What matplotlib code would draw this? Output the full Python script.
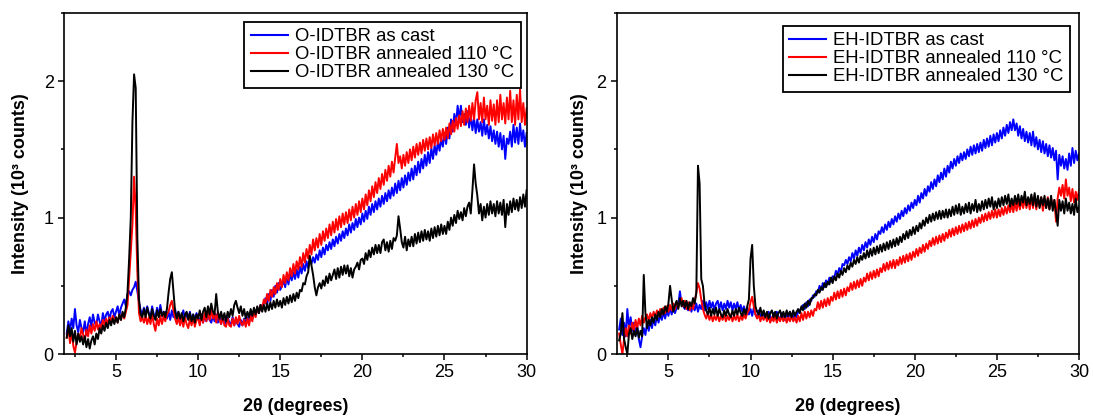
import numpy as np
import matplotlib.pyplot as plt
from matplotlib.ticker import MultipleLocator

plt.rcParams['font.family'] = ['Liberation Sans', 'DejaVu Sans']

# 2-theta grid: 2.0 .. 30.0 in 0.1 degree steps (one row = one degree)
# --- O-IDTBR (left panel) ---
o_cast = [
    .15, .24, .17, .26, .19, .33, .21, .16, .25, .19,
    .16, .24, .14, .22, .27, .20, .29, .23, .21, .29,
    .24, .20, .30, .24, .29, .31, .25, .31, .33, .27,
    .31, .35, .28, .34, .37, .40, .35, .44, .46, .43,
    .47, .49, .53, .46, .38, .32, .29, .34, .29, .35,
    .30, .27, .35, .29, .27, .34, .28, .36, .29, .27,
    .31, .26, .31, .25, .32, .27, .33, .26, .31, .25,
    .28, .32, .25, .30, .26, .31, .24, .29, .25, .30,
    .27, .24, .29, .23, .28, .24, .29, .25, .23, .28,
    .24, .29, .23, .27, .22, .28, .24, .22, .27, .23,
    .22, .27, .21, .26, .22, .20, .25, .21, .26, .22,
    .27, .23, .29, .26, .31, .28, .34, .30, .36, .34,
    .37, .41, .36, .44, .39, .47, .42, .50, .45, .52,
    .47, .50, .54, .49, .57, .51, .59, .54, .60, .55,
    .62, .56, .64, .59, .66, .61, .68, .63, .70, .66,
    .71, .67, .73, .69, .76, .71, .78, .73, .80, .76,
    .82, .77, .84, .79, .86, .81, .88, .83, .90, .85,
    .92, .87, .95, .89, .96, .91, .99, .93, 1.00, .95,
    1.03, .97, 1.05, .99, 1.08, 1.02, 1.10, 1.04, 1.12, 1.06,
    1.14, 1.08, 1.16, 1.10, 1.18, 1.12, 1.20, 1.14, 1.22, 1.16,
    1.25, 1.18, 1.27, 1.20, 1.29, 1.22, 1.31, 1.24, 1.33, 1.27,
    1.36, 1.28, 1.38, 1.31, 1.41, 1.33, 1.43, 1.36, 1.46, 1.38,
    1.48, 1.40, 1.51, 1.43, 1.53, 1.46, 1.56, 1.49, 1.58, 1.52,
    1.62, 1.54, 1.66, 1.58, 1.72, 1.63, 1.76, 1.68, 1.82, 1.72,
    1.82, 1.70, 1.76, 1.68, 1.78, 1.66, 1.75, 1.64, 1.73, 1.62,
    1.72, 1.63, 1.70, 1.60, 1.72, 1.61, 1.68, 1.58, 1.67, 1.56,
    1.64, 1.54, 1.63, 1.52, 1.62, 1.50, 1.60, 1.43, 1.58, 1.54,
    1.63, 1.52, 1.68, 1.55, 1.66, 1.54, 1.69, 1.56, 1.64, 1.52,
    1.62,
]
o_110 = [
    .12, .19, .08, .17, .06, .01, .09, .15, .11, .19,
    .14, .10, .18, .13, .21, .15, .22, .17, .24, .18,
    .22, .19, .25, .21, .26, .22, .27, .23, .28, .24,
    .27, .23, .29, .25, .30, .26, .31, .36, .55, .75,
    .95, 1.30, 1.05, .60, .30, .24, .27, .23, .28, .22,
    .27, .22, .29, .22, .17, .26, .21, .28, .22, .28,
    .24, .29, .31, .36, .39, .32, .26, .22, .27, .21,
    .26, .20, .27, .22, .19, .26, .21, .27, .20, .25,
    .26, .21, .29, .23, .30, .24, .31, .25, .32, .26,
    .30, .23, .31, .25, .22, .28, .21, .20, .26, .21,
    .20, .26, .21, .27, .22, .28, .23, .21, .25, .20,
    .26, .21, .28, .24, .31, .27, .34, .30, .36, .33,
    .40, .37, .44, .39, .47, .42, .49, .44, .52, .47,
    .55, .49, .58, .52, .60, .54, .63, .57, .66, .59,
    .68, .62, .71, .64, .74, .67, .77, .70, .80, .73,
    .84, .76, .85, .78, .88, .80, .90, .83, .92, .85,
    .95, .87, .97, .89, .99, .91, 1.01, .93, 1.03, .95,
    1.04, .96, 1.06, .98, 1.08, 1.00, 1.10, 1.02, 1.12, 1.04,
    1.14, 1.06, 1.17, 1.09, 1.20, 1.12, 1.23, 1.15, 1.26, 1.18,
    1.29, 1.21, 1.32, 1.24, 1.35, 1.27, 1.38, 1.30, 1.41, 1.33,
    1.44, 1.54, 1.40, 1.45, 1.36, 1.46, 1.38, 1.48, 1.40, 1.50,
    1.42, 1.52, 1.44, 1.54, 1.46, 1.55, 1.47, 1.57, 1.49, 1.58,
    1.50, 1.59, 1.51, 1.61, 1.53, 1.62, 1.54, 1.64, 1.56, 1.65,
    1.57, 1.66, 1.58, 1.69, 1.61, 1.71, 1.63, 1.73, 1.65, 1.75,
    1.67, 1.78, 1.68, 1.80, 1.70, 1.82, 1.71, 1.84, 1.72, 1.86,
    1.92, 1.72, 1.84, 1.70, 1.88, 1.72, 1.82, 1.68, 1.86, 1.71,
    1.83, 1.68, 1.86, 1.70, 1.90, 1.72, 1.84, 1.69, 1.88, 1.72,
    1.93, 1.70, 1.86, 1.68, 1.90, 1.72, 1.94, 1.70, 1.84, 1.68,
    1.80,
]
o_130 = [
    .12, .21, .13, .19, .09, .17, .07, .15, .09, .13,
    .07, .13, .05, .11, .04, .10, .13, .07, .15, .11,
    .19, .15, .21, .17, .23, .19, .25, .21, .26, .22,
    .27, .23, .29, .25, .31, .27, .34, .45, .70, 1.00,
    1.70, 2.05, 1.95, .85, .40, .29, .27, .33, .27, .34,
    .29, .26, .33, .28, .25, .32, .27, .33, .28, .31,
    .27, .33, .45, .55, .60, .45, .31, .26, .31, .26,
    .30, .24, .29, .31, .25, .30, .24, .29, .23, .29,
    .26, .32, .25, .31, .34, .27, .35, .29, .37, .31,
    .29, .44, .31, .26, .31, .25, .30, .24, .31, .27,
    .33, .28, .36, .39, .34, .30, .35, .28, .33, .26,
    .31, .27, .33, .28, .34, .29, .35, .30, .36, .31,
    .36, .31, .37, .32, .38, .33, .39, .34, .40, .35,
    .39, .34, .41, .36, .42, .37, .43, .38, .44, .39,
    .45, .41, .47, .46, .52, .51, .57, .60, .72, .65,
    .58, .49, .43, .49, .52, .48, .54, .50, .57, .52,
    .59, .54, .58, .62, .55, .63, .56, .64, .58, .65,
    .59, .65, .57, .63, .56, .62, .64, .67, .62, .69,
    .70, .66, .74, .69, .76, .71, .78, .73, .80, .74,
    .80, .74, .82, .84, .76, .82, .75, .83, .77, .85,
    .83, .87, 1.01, .92, .82, .78, .86, .76, .84, .79,
    .86, .79, .88, .81, .89, .82, .90, .83, .91, .84,
    .90, .83, .92, .85, .93, .86, .94, .87, .95, .88,
    .94, .88, .97, .91, 1.00, .94, 1.02, .96, 1.05, .99,
    1.04, .98, 1.07, 1.01, 1.08, 1.11, 1.03, 1.20, 1.39, 1.25,
    1.16, 1.03, 1.10, .98, 1.08, 1.00, 1.10, 1.02, 1.12, 1.03,
    1.10, 1.01, 1.12, 1.03, 1.11, 1.02, 1.13, .93, 1.10, 1.02,
    1.12, 1.04, 1.14, 1.06, 1.13, 1.05, 1.15, 1.07, 1.17, 1.08,
    1.20,
]

# --- EH-IDTBR (right panel) ---
eh_cast = [
    .18, .26, .14, .23, .13, .33, .19, .27, .17, .23,
    .14, .21, .11, .05, .13, .19, .14, .23, .17, .25,
    .19, .26, .21, .28, .23, .29, .25, .31, .26, .32,
    .28, .34, .29, .35, .30, .34, .36, .46, .37, .35,
    .33, .38, .32, .37, .31, .36, .32, .37, .31, .36,
    .33, .39, .32, .38, .33, .39, .34, .38, .32, .37,
    .39, .33, .38, .32, .37, .33, .39, .34, .38, .32,
    .37, .33, .38, .32, .36, .31, .35, .30, .34, .29,
    .33, .28, .34, .29, .27, .32, .28, .26, .31, .27,
    .26, .31, .27, .25, .30, .26, .31, .27, .26, .30,
    .27, .25, .30, .26, .31, .27, .26, .30, .27, .31,
    .32, .34, .36, .33, .38, .35, .40, .39, .43, .42,
    .46, .45, .50, .47, .52, .49, .54, .51, .56, .53,
    .57, .56, .61, .58, .63, .60, .66, .65, .69, .66,
    .71, .68, .74, .70, .76, .72, .78, .74, .80, .76,
    .82, .78, .84, .80, .86, .82, .88, .84, .90, .88,
    .93, .89, .95, .91, .97, .93, .99, .95, 1.01, .97,
    1.03, .99, 1.05, 1.01, 1.07, 1.03, 1.09, 1.05, 1.11, 1.07,
    1.13, 1.09, 1.16, 1.11, 1.18, 1.14, 1.21, 1.16, 1.23, 1.19,
    1.26, 1.21, 1.28, 1.23, 1.31, 1.26, 1.33, 1.28, 1.36, 1.30,
    1.38, 1.33, 1.41, 1.36, 1.43, 1.38, 1.45, 1.40, 1.47, 1.42,
    1.48, 1.43, 1.50, 1.45, 1.52, 1.46, 1.53, 1.47, 1.54, 1.48,
    1.55, 1.49, 1.57, 1.51, 1.58, 1.52, 1.60, 1.53, 1.61, 1.55,
    1.62, 1.56, 1.64, 1.58, 1.66, 1.60, 1.68, 1.62, 1.70, 1.64,
    1.72, 1.64, 1.69, 1.60, 1.67, 1.58, 1.65, 1.56, 1.63, 1.55,
    1.62, 1.53, 1.63, 1.52, 1.59, 1.50, 1.57, 1.48, 1.56, 1.47,
    1.54, 1.45, 1.53, 1.44, 1.51, 1.42, 1.49, 1.28, 1.46, 1.38,
    1.45, 1.36, 1.43, 1.35, 1.47, 1.38, 1.51, 1.40, 1.49, 1.42,
    1.47,
]
eh_110 = [
    .15, .07, .00, .11, .19, .13, .21, .15, .23, .17,
    .25, .19, .26, .21, .28, .23, .27, .29, .24, .30,
    .26, .31, .27, .32, .28, .33, .29, .34, .30, .35,
    .31, .36, .32, .37, .33, .38, .34, .39, .41, .35,
    .39, .33, .38, .32, .37, .33, .39, .45, .52, .48,
    .40, .33, .29, .26, .30, .25, .29, .24, .28, .25,
    .29, .24, .28, .25, .29, .24, .28, .25, .29, .24,
    .28, .25, .29, .24, .28, .25, .29, .26, .30, .32,
    .38, .42, .35, .29, .26, .29, .24, .28, .25, .29,
    .24, .28, .23, .27, .24, .28, .23, .27, .24, .28,
    .24, .28, .23, .27, .24, .28, .24, .27, .23, .28,
    .24, .30, .25, .31, .26, .31, .27, .32, .28, .33,
    .32, .38, .33, .39, .34, .40, .35, .41, .36, .42,
    .39, .45, .40, .46, .41, .47, .42, .48, .43, .49,
    .46, .52, .47, .53, .48, .54, .49, .55, .50, .56,
    .53, .59, .54, .60, .55, .61, .56, .62, .57, .63,
    .60, .66, .61, .67, .62, .68, .63, .69, .63, .69,
    .65, .71, .66, .72, .67, .73, .68, .74, .69, .75,
    .71, .77, .72, .78, .74, .80, .75, .81, .77, .83,
    .79, .85, .80, .86, .81, .87, .82, .88, .83, .89,
    .85, .91, .86, .92, .87, .93, .88, .94, .89, .95,
    .90, .96, .91, .97, .92, .98, .93, .99, .94, 1.00,
    .96, 1.02, .97, 1.03, .98, 1.04, .99, 1.05, 1.00, 1.06,
    1.00, 1.06, 1.01, 1.07, 1.02, 1.08, 1.03, 1.09, 1.04, 1.10,
    1.04, 1.11, 1.05, 1.12, 1.06, 1.13, 1.07, 1.14, 1.07, 1.14,
    1.06, 1.15, 1.07, 1.16, 1.06, 1.14, 1.08, 1.15, 1.05, 1.13,
    1.07, 1.15, 1.06, 1.14, 1.08, 1.13, .97, 1.14, 1.22, 1.16,
    1.24, 1.14, 1.28, 1.16, 1.22, 1.12, 1.21, 1.11, 1.19, 1.13,
    1.20,
]
eh_130 = [
    .10, .15, .30, .11, .05, .00, .15, .19, .11, .17,
    .13, .19, .12, .17, .13, .58, .30, .19, .25, .21,
    .27, .23, .29, .25, .31, .27, .33, .29, .35, .31,
    .37, .50, .40, .31, .36, .39, .33, .41, .35, .39,
    .34, .39, .33, .38, .35, .41, .37, .45, 1.38, 1.25,
    .55, .50, .37, .32, .29, .34, .28, .33, .29, .34,
    .28, .33, .29, .27, .32, .28, .33, .29, .27, .32,
    .28, .33, .29, .34, .30, .28, .33, .29, .35, .40,
    .70, .80, .50, .35, .31, .29, .34, .28, .32, .27,
    .31, .26, .30, .32, .27, .31, .26, .30, .32, .27,
    .31, .27, .32, .28, .31, .27, .32, .28, .31, .33,
    .30, .35, .32, .37, .34, .39, .36, .41, .41, .44,
    .43, .47, .45, .49, .47, .52, .49, .53, .51, .56,
    .52, .57, .54, .59, .56, .61, .58, .63, .60, .65,
    .62, .67, .64, .69, .66, .71, .67, .72, .69, .74,
    .70, .76, .71, .77, .72, .78, .73, .79, .74, .80,
    .75, .81, .76, .82, .77, .83, .78, .84, .79, .85,
    .80, .86, .82, .88, .84, .90, .85, .91, .87, .93,
    .88, .94, .90, .96, .92, .98, .94, 1.00, .96, 1.02,
    .97, 1.03, .98, 1.04, .99, 1.05, .99, 1.05, 1.00, 1.06,
    1.00, 1.06, 1.01, 1.08, 1.02, 1.09, 1.03, 1.10, 1.02, 1.08,
    1.03, 1.10, 1.04, 1.11, 1.03, 1.10, 1.05, 1.13, 1.04, 1.10,
    1.05, 1.12, 1.06, 1.13, 1.07, 1.14, 1.08, 1.15, 1.06, 1.12,
    1.07, 1.14, 1.08, 1.15, 1.09, 1.16, 1.10, 1.17, 1.08, 1.14,
    1.09, 1.16, 1.10, 1.17, 1.09, 1.16, 1.11, 1.19, 1.09, 1.15,
    1.10, 1.17, 1.09, 1.18, 1.08, 1.16, 1.07, 1.15, 1.09, 1.16,
    1.07, 1.14, 1.06, 1.16, 1.05, 1.13, 1.04, .94, 1.13, 1.05,
    1.12, 1.03, 1.14, 1.05, 1.11, 1.03, 1.10, 1.02, 1.14, 1.04,
    1.08,
]

labels_o = ["O-IDTBR as cast", "O-IDTBR annealed 110 °C", "O-IDTBR annealed 130 °C"]
labels_eh = ["EH-IDTBR as cast", "EH-IDTBR annealed 110 °C", "EH-IDTBR annealed 130 °C"]
colors = ["#0000ff", "#ff0000", "#000000"]

fig = plt.figure(figsize=(10.93, 4.18), dpi=100)
ax1 = fig.add_axes([0.0588, 0.153, 0.423, 0.816])
ax2 = fig.add_axes([0.5642, 0.153, 0.423, 0.816])


def draw_panel(ax, series, labels, leg_anchor, ylab_x):
    for y, lab, c in zip(series, labels, colors):
        x = np.linspace(2.0, 30.0, len(y))
        ax.plot(x, y, color=c, lw=1.4, label=lab)
    ax.set_xlim(1.85, 30)
    ax.set_ylim(0, 2.5)
    ax.xaxis.set_major_locator(MultipleLocator(5))
    ax.xaxis.set_minor_locator(MultipleLocator(2.5))
    ax.yaxis.set_major_locator(MultipleLocator(1))
    ax.yaxis.set_minor_locator(MultipleLocator(0.5))
    ax.tick_params(which='both', direction='out', top=False, right=False,
                   width=1.1, labelsize=13)
    ax.tick_params(which='major', length=4)
    ax.tick_params(which='minor', length=2.5)
    for s in ax.spines.values():
        s.set_linewidth(1.2)
    ax.set_xlabel("2θ (degrees)", fontsize=13, fontweight='bold')
    ax.set_ylabel("Intensity (10³ counts)", fontsize=13, fontweight='bold')
    ax.xaxis.set_label_coords(0.5, -0.13)
    ax.yaxis.set_label_coords(ylab_x, 0.5)
    leg = ax.legend(loc='upper right', bbox_to_anchor=leg_anchor, borderaxespad=0,
                    fontsize=13.3, frameon=True, fancybox=False, framealpha=1,
                    edgecolor='black', handlelength=2.0, handletextpad=0.4,
                    borderpad=0.35, labelspacing=0.05)
    leg.get_frame().set_linewidth(1.3)
    for line in leg.get_lines():
        line.set_linewidth(1.5)


draw_panel(ax1, [o_cast, o_110, o_130], labels_o, (0.987, 0.9736), -0.077)
draw_panel(ax2, [eh_cast, eh_110, eh_130], labels_eh, (0.981, 0.962), -0.062)

plt.savefig("out.png", dpi=100)
